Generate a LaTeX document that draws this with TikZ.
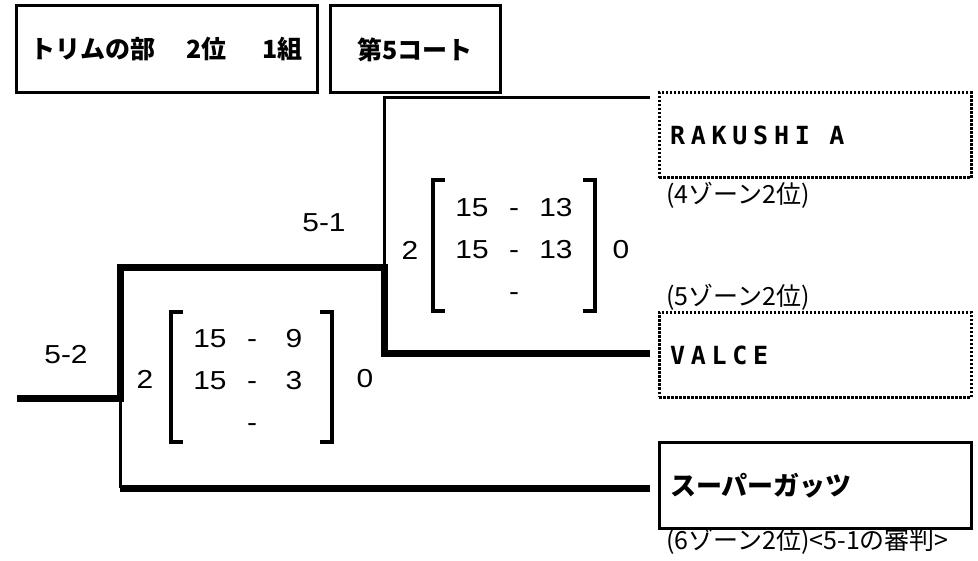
\documentclass[tikz,border=0pt]{standalone}
\usepackage{fontspec}
\usepackage{array}
\setmainfont{Liberation Sans}[FakeStretch=1.15]
\newfontfamily\jpfont{Noto Sans CJK JP}
\newfontfamily\teamfont{DejaVu Sans Mono}[LetterSpace=23]
\setlength{\tabcolsep}{0pt}
\begin{document}
\begin{tikzpicture}[x=1pt, y=-1pt,
  thick line/.style={line width=7pt},
  thin line/.style={line width=3pt},
  bracket/.style={line width=3.5pt},
  title box/.style={draw, line width=3pt, minimum height=87pt, inner sep=0pt, font=\jpfont\bfseries\fontsize{25}{30}\selectfont},
  team box/.style={draw, line width=3pt, minimum width=312pt, minimum height=85pt, text width=290pt, inner xsep=11pt, inner ysep=0pt, align=left},
  dotted box/.style={team box, dash pattern=on 2.5pt off 1.5pt},
  zone/.style={anchor=west, inner sep=0pt, font=\jpfont\fontsize{25}{30}\selectfont},
  num/.style={inner sep=0pt, font=\fontsize{26}{30}\selectfont},
  score/.style={inner sep=0pt, font=\fontsize{26}{42}\selectfont}]
\useasboundingbox (0,0) rectangle (978,561);
% titles
\node[title box, minimum width=301pt] (title) at (166.5,49.5) {トリムの部\hspace{31pt}2位\hspace{36pt}1組};
\node[title box, minimum width=170pt] (court) at (415,49.5) {第5コート};
% teams
\node[dotted box, font=\teamfont\bfseries\fontsize{25}{30}\selectfont] (rakushi) at (815,135.5) {RAKUSHI\hspace{19.5pt}A};
\node[dotted box, font=\teamfont\bfseries\fontsize{25}{30}\selectfont] (valce) at (815,355) {VALCE};
\node[team box, font=\jpfont\bfseries\fontsize{26}{30}\selectfont] (super) at (815,485.5) {スーパーガッツ};
\node[zone] (z4) at (666,195) {(4ゾーン2位)};
\node[zone] (z5) at (666,297) {(5ゾーン2位)};
\node[zone] (z6) at (666,541) {(6ゾーン2位)<5-1の審判>};
% match 5-1
\node[num] (m51) at (324,223) {5-1};
\node[num] (w51) at (410,250) {2};
\node[num] (l51) at (621,250) {0};
\node[score] (s51) at (514,250) {\begin{tabular}{*{3}{w{c}{42pt}}}15 & - & 13\\ 15 & - & 13\\ & - & \end{tabular}};
\draw[bracket] (445,180) -| (433,311) -- (445,311);
\draw[bracket] (583,180) -| (595,311) -- (583,311);
% match 5-2
\node[num] (m52) at (66,355) {5-2};
\node[num] (w52) at (145,379) {2};
\node[num] (l52) at (365,379) {0};
\node[score] (s52) at (252,381) {\begin{tabular}{*{3}{w{c}{42pt}}}15 & - & 9\\ 15 & - & 3\\ & - & \end{tabular}};
\draw[bracket] (183,312) -| (171,442) -- (183,442);
\draw[bracket] (320,312) -| (332,442) -- (320,442);
% lines
\coordinate (start) at (17,399);
\coordinate (j52) at (120,399);
\coordinate (j51) at (384,268);
\coordinate (j53) at (120,488);
\coordinate (rakushi in) at (650,98);
\coordinate (valce in) at (650,354);
\coordinate (super in) at (650,488);
\draw[thin line] (j51) |- (rakushi in);
\draw[thin line] (j52) -- (j53);
\draw[thick line] (start) -- (j52) |- (j51) |- (valce in);
\draw[thick line] (j53) -- (super in);
\end{tikzpicture}
\end{document}
